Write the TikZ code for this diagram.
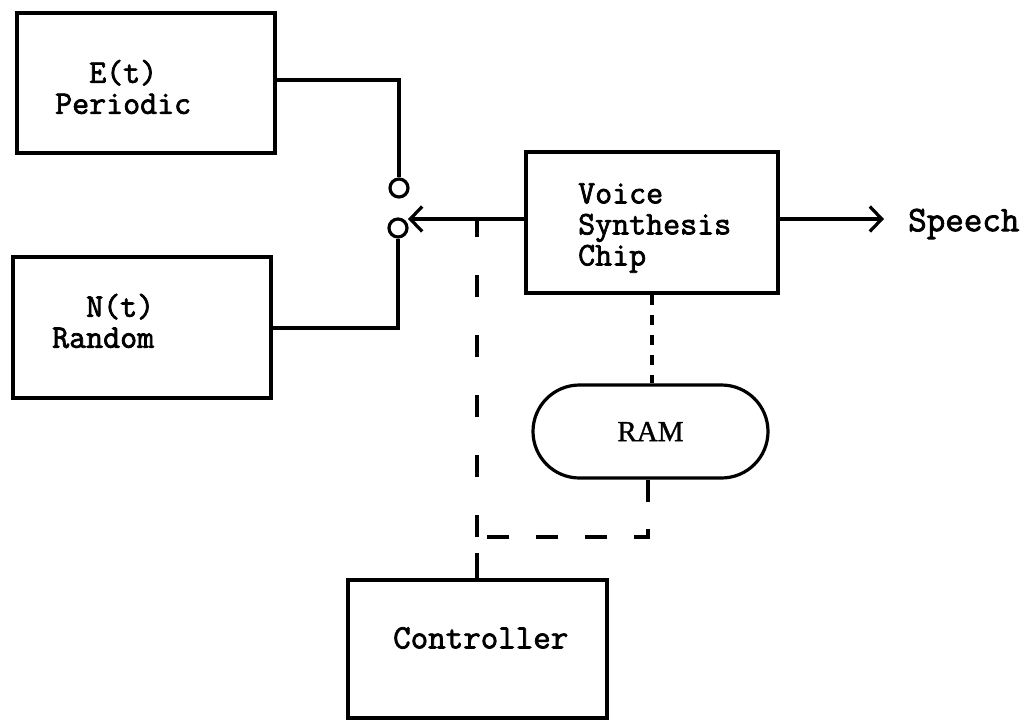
\documentclass[tikz,border=0pt]{standalone}
\usepackage{fontspec}
\setmonofont{Latin Modern Mono}[FakeBold=2.2]
\newfontfamily\ramfont{Liberation Serif}[FakeBold=1.2]
\usetikzlibrary{arrows.meta,shapes.misc}
\begin{document}
\begin{tikzpicture}[x=1pt,y=-1pt,
  blk/.style={draw,line width=3.2pt,rectangle,inner sep=0pt},
  txt/.style={font=\ttfamily\fontsize{33}{31}\selectfont,align=left,inner sep=0pt,anchor=west},
  wire/.style={line width=3.2pt},
  contact/.style={draw,circle,line width=3.2pt,minimum size=18pt,inner sep=0pt},
  barb/.style={-{Straight Barb[length=12pt,width=25pt,line width=3.2pt]}},
  longdash/.style={line width=3.2pt,dash pattern=on 22pt off 38pt},
  meddash/.style={line width=3.2pt,dash pattern=on 22pt off 27pt},
  shortdash/.style={line width=3.2pt,dash pattern=on 10pt off 10pt}]
\useasboundingbox (0,0) rectangle (1034,720);

% source blocks
\node[blk,minimum width=258pt,minimum height=140pt] (ebox) at (146,83) {};
\node[txt] (etxt) at (55,87) {\phantom{XX}E(t)\\Periodic};
\node[blk,minimum width=258pt,minimum height=141pt] (nbox) at (142,327.5) {};
\node[txt] (ntxt) at (52,321) {\phantom{XX}N(t)\\Random};

% switch contacts
\node[contact] (up) at (399,188) {};
\node[contact] (dn) at (398,228) {};

% synthesis chip
\node[blk,minimum width=252pt,minimum height=141pt] (chip) at (652,222.5) {};
\node[txt] (chiptxt) at (578,228) {Voice\\Synthesis\\Chip};
\node[txt,font=\ttfamily\fontsize{36}{36}\selectfont] (speech) at (908,224) {Speech};
\coordinate (out) at (884,219);

% memory
\node[draw,rounded rectangle,line width=3.2pt,minimum width=235pt,minimum height=93pt,inner sep=0pt,
      font=\ramfont\fontsize{29}{29}\selectfont] (ram) at (650.5,431.5) {RAM};

% controller
\node[blk,minimum width=259pt,minimum height=138pt] (ctrl) at (477.5,649) {};
\node[txt,font=\ttfamily\fontsize{34}{34}\selectfont] (ctrltxt) at (393,638) {Controller};

% wiring
\coordinate (etop) at (399,80);
\coordinate (nbot) at (398,328);
\draw[wire] (ebox.east |- etop) -- (etop) -- (up.north);
\draw[wire] (dn.south) -- (nbot) -- (nbox.east |- nbot);
\coordinate (tip) at (408,219);
\draw[wire,barb] (chip.west |- tip) -- (tip);
\draw[wire,barb] (chip.east |- out) -- (out);

% control bus
\coordinate (tap) at (477,219);
\coordinate (corner) at (477,537);
\coordinate (rcorner) at (648,537);
\coordinate (stub) at (477,553);
\draw[shortdash] (chip.south -| ram.north) ++(1.5,0) coordinate (cbot) -- (cbot |- ram.north);
\draw[longdash] (corner) -- (tap);
\draw[meddash] (ram.south -| rcorner) -- (rcorner) -- (corner);
\draw[wire] (stub) -- (stub |- ctrl.north);
\end{tikzpicture}
\end{document}
